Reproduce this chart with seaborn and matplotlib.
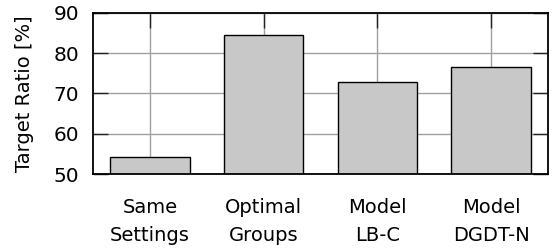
import matplotlib
matplotlib.use("Agg")
import matplotlib.pyplot as plt
import seaborn as sns
import pandas as pd


# DATA

categories = ["Same\nSettings", "Optimal\nGroups", "Model\nLB-C", "Model\nDGDT-N"]
ratios = [54.3, 84.5, 72.9, 76.5]
yticks = [50, 60, 70, 80, 90]

df = pd.DataFrame({"method": categories, "ratio": ratios})


sns.set_style("white")
plt.rcParams["font.family"] = ["DejaVu Sans"]
plt.rcParams["text.color"] = "black"
plt.rcParams["xtick.labelcolor"] = "black"
plt.rcParams["ytick.labelcolor"] = "black"
plt.rcParams["axes.labelcolor"] = "black"

fig = plt.figure(figsize=(5.57, 2.49), dpi=100)
ax = fig.add_axes([0.167, 0.301, 0.817, 0.647])

sns.barplot(
    data=df,
    x="method",
    y="ratio",
    color="#c8c8c8",
    edgecolor="black",
    linewidth=1.0,
    width=0.7,
    saturation=1,
    ax=ax,
)

# grid behind bars (seaborn switches off the categorical grid)
ax.set_axisbelow(True)
ax.grid(True, axis="both", color="#a0a0a0", linewidth=1.0)

ax.set_ylim(50, 90)
ax.set_xlim(-0.5, 3.5)
ax.set_yticks(yticks)

ax.set_xlabel("")
ax.set_ylabel("Target Ratio [%]", fontsize=14, labelpad=14)

ax.tick_params(axis="y", direction="in", length=11, width=1, color="#222222",
               left=True, right=True, labelsize=14.5, pad=10)
ax.tick_params(axis="x", direction="in", length=11, width=1, color="#222222",
               top=True, bottom=False, labelsize=14, pad=17)

for lbl in ax.get_xticklabels():
    lbl.set_linespacing(1.65)

for s in ax.spines.values():
    s.set_color("black")
    s.set_linewidth(1.3)

plt.savefig("out.png", dpi=100)
plt.close()
